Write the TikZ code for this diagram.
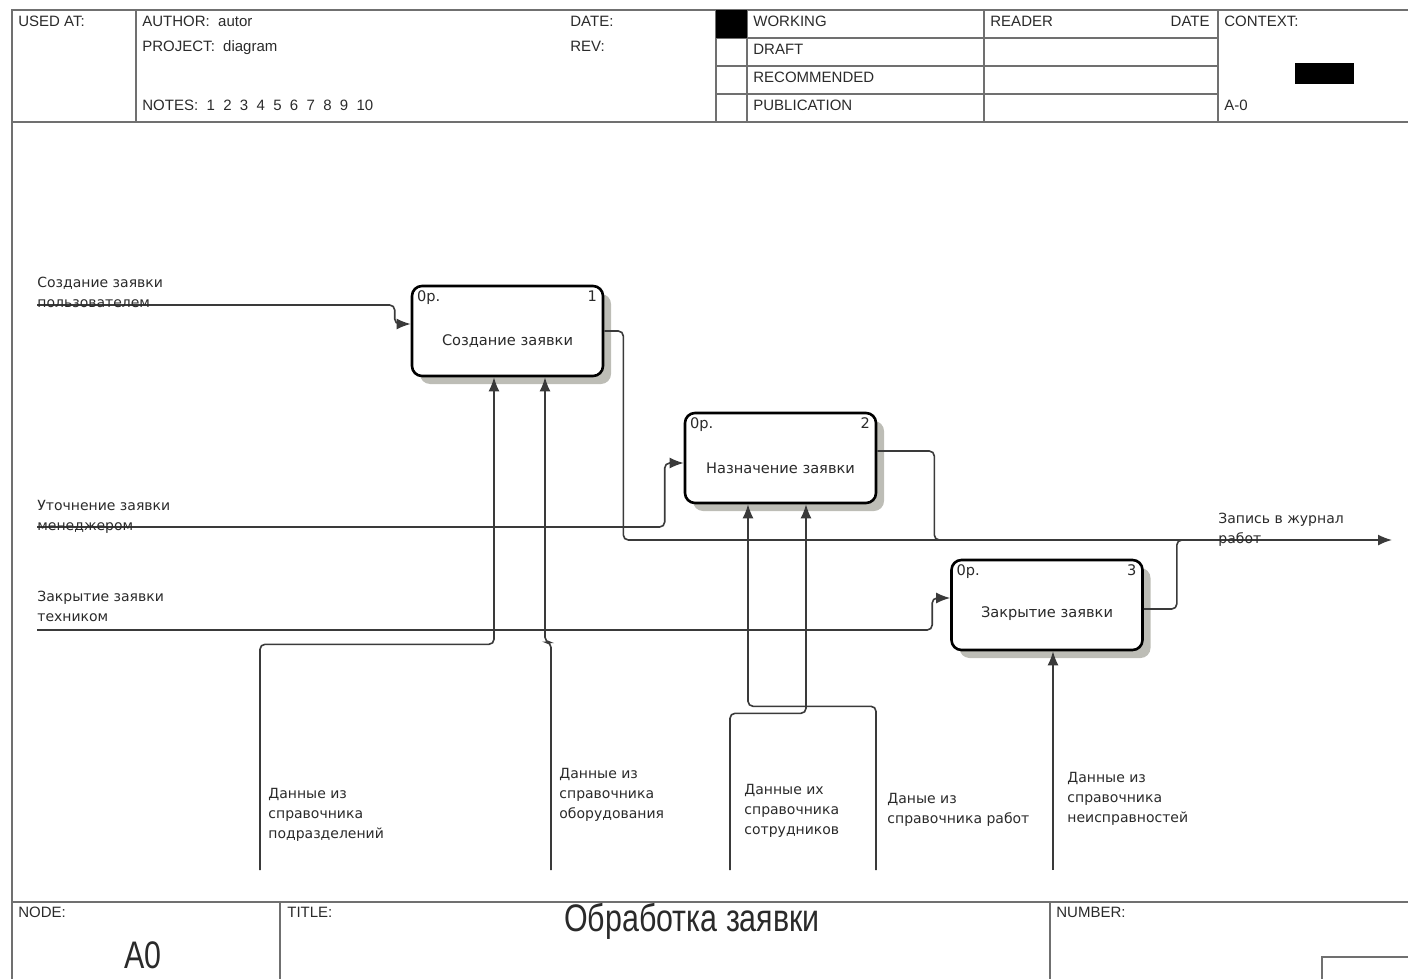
\documentclass[tikz,border=0pt]{standalone}
\usepackage{fontspec}
\setmainfont{Liberation Sans}
\newfontfamily\lblfont{DejaVu Sans}
\usepackage{tikz}
\usetikzlibrary{arrows.meta,calc,shadows}
\definecolor{Wire}{HTML}{3A3A3A}
\definecolor{Rule}{HTML}{707070}
\definecolor{Shade}{HTML}{BDBDB6}
\definecolor{Txt}{HTML}{2A2A2A}
\tikzset{
  >={Latex[length=7pt,width=5.5pt]},
  func/.style={draw=black,line width=1.3pt,rounded corners=5pt,fill=white,minimum width=95.5pt,minimum height=45pt,inner sep=0pt,
    drop shadow={shadow xshift=4pt,shadow yshift=-4pt,fill=Shade,opacity=1}},
  flow/.style={draw=Wire,line width=.8pt,rounded corners=2.5pt},
  arr/.style={flow,->},
  lab/.style={font=\lblfont\fontsize{7}{10}\selectfont,text=Txt,align=left,anchor=base west,inner sep=0pt},
  tag/.style={font=\lblfont\fontsize{7.3}{8}\selectfont,text=Txt,inner sep=0pt},
  hdr/.style={font=\fontsize{7.5}{9}\selectfont,text=Txt,anchor=base west,inner sep=0pt},
  big/.style={font=\fontsize{16}{18}\selectfont,text=Txt,inner sep=0pt},
  frame/.style={draw=Rule,line width=1pt}
}
\begin{document}
\begin{tikzpicture}[x=0.5pt,y=-0.5pt]
  \useasboundingbox (0,0) rectangle (1408,979);
  % form frame
  \draw[frame] (12,979) -- (12,10) -- (1408,10);
  \draw[frame] (12,122) -- (1408,122);
  \draw[frame] (12,902) -- (1408,902);
  \foreach \xx in {136,716,747,984,1218} \draw[frame] (\xx,10) -- (\xx,122);
  \foreach \yy in {38,66,94} \draw[frame] (716,\yy) -- (1218,\yy);
  \fill[black] (716,10) rectangle (747,38);
  \fill[black] (1295,63) rectangle (1354,84);
  \draw[frame] (280,902) -- (280,979);
  \draw[frame] (1050,902) -- (1050,979);
  \draw[frame] (1322,979) -- (1322,957) -- (1408,957);
  % header
  \node[hdr] (usedat) at (18,27) {USED AT:};
  \node[hdr] (author) at (142,27) {AUTHOR:\ \ autor};
  \node[hdr] (project) at (142,52) {PROJECT:\ \ diagram};
  \node[hdr] (notes) at (142,111) {NOTES:\ \ 1\ \ 2\ \ 3\ \ 4\ \ 5\ \ 6\ \ 7\ \ 8\ \ 9\ \ 10};
  \node[hdr] (date) at (570,27) {DATE:};
  \node[hdr] (rev) at (570,52) {REV:};
  \node[hdr] (working) at (753,27) {WORKING};
  \node[hdr] (draft) at (753,55) {DRAFT};
  \node[hdr] (recom) at (753,83) {RECOMMENDED};
  \node[hdr] (publ) at (753,111) {PUBLICATION};
  \node[hdr] (reader) at (990,27) {READER};
  \node[hdr,anchor=base east] (rdate) at (1210,27) {DATE};
  \node[hdr] (context) at (1224,27) {CONTEXT:};
  \node[hdr] (aminus) at (1224,111) {A-0};
  % footer
  \node[hdr] (nodelbl) at (18,917) {NODE:};
  \node[hdr] (titlelbl) at (287,917) {TITLE:};
  \node[hdr] (numlbl) at (1056,917) {NUMBER:};
  \node[big] (nodeA) at (143,955) {\scalebox{0.95}[1.2]{A0}};
  \node[big] (title) at (692,921) {\scalebox{0.95}[1.2]{Обработка заявки}};
  % functions
  \node[func] (sozd) at (507.5,331) {};
  \node[func] (nazn) at (780.5,458) {};
  \node[func] (zakr) at (1047,605) {};
  \node[tag] (sozdT) at ($(sozd)+(0,10)$) {Создание заявки};
  \node[tag] (naznT) at ($(nazn)+(0,10)$) {Назначение заявки};
  \node[tag] (zakrT) at ($(zakr)+(0,9)$) {Закрытие заявки};
  \node[tag,anchor=north west] (sozdC) at ($(sozd.north west)+(6,6)$) {0р.};
  \node[tag,anchor=north east] (sozdN) at ($(sozd.north east)+(-7,6)$) {1};
  \node[tag,anchor=north west] (naznC) at ($(nazn.north west)+(6,6)$) {0р.};
  \node[tag,anchor=north east] (naznN) at ($(nazn.north east)+(-7,6)$) {2};
  \node[tag,anchor=north west] (zakrC) at ($(zakr.north west)+(6,6)$) {0р.};
  \node[tag,anchor=north east] (zakrN) at ($(zakr.north east)+(-7,6)$) {3};
  % inputs
  \coordinate (in1) at (37,305);
  \coordinate (in2) at (37,527);
  \coordinate (in3) at (37,630);
  \draw[arr] (in1) -| ($(sozd.west)+(-16,-7)$) -- ($(sozd.west)+(0,-7)$);
  \draw[arr] (in2) -| ($(nazn.west)+(-19,5)$) -- ($(nazn.west)+(0,5)$);
  \draw[arr] (in3) -| ($(zakr.west)+(-18,-7)$) -- ($(zakr.west)+(0,-7)$);
  \node[lab] (in1L) at (37,307) {Создание заявки\\пользователем};
  \node[lab] (in2L) at (37,530) {Уточнение заявки\\менеджером};
  \node[lab] (in3L) at (37,621) {Закрытие заявки\\техником};
  % output
  \coordinate (out) at (1392,540);
  \draw[arr] (sozd.east) -- ++(19,0) |- (out);
  \draw[flow] ($(nazn.east)+(0,-7)$) -- ++(57,0) |- ($(out)+(-420,0)$);
  \draw[flow] ($(zakr.east)+(0,4)$) -- ++(33,0) |- ($(out)+(-180,0)$);
  \node[lab] (outL) at (1218,543) {Запись в журнал\\работ};
  % controls
  \coordinate (c1) at (260,870);
  \coordinate (c2) at (551,870);
  \coordinate (c3) at (730,870);
  \coordinate (c4) at (876,870);
  \coordinate (c5) at (1053,870);
  \draw[arr] (c1) |- ($(sozd.south)+(-13.5,267)$) -- ($(sozd.south)+(-13.5,0)$);
  \draw[arr] (c2) |- ($(sozd.south)+(37.5,265)$) -- ($(sozd.south)+(37.5,0)$);
  \draw[arr] (c3) |- ($(nazn.south)+(25.5,209)$) -- ($(nazn.south)+(25.5,0)$);
  \draw[arr] (c4) |- ($(nazn.south)+(-32.5,202)$) -- ($(nazn.south)+(-32.5,0)$);
  \draw[arr] (c5) -- (c5 |- zakr.south);
  \node[lab] (c1L) at (268,838) {Данные из\\справочника\\подразделений};
  \node[lab] (c2L) at (559,818) {Данные из\\справочника\\оборудования};
  \node[lab] (c3L) at (744,834) {Данные их\\справочника\\сотрудников};
  \node[lab] (c4L) at (887,823) {Даные из\\справочника работ};
  \node[lab] (c5L) at (1067,822) {Данные из\\справочника\\неисправностей};
\end{tikzpicture}
\end{document}
